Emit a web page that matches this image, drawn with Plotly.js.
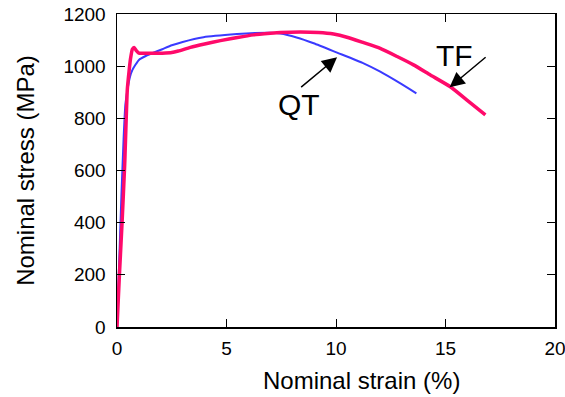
<!DOCTYPE html>
<html>
<head>
<meta charset="utf-8">
<script src="https://cdn.plot.ly/plotly-3.0.1.min.js"></script>
<style>html,body{margin:0;padding:0;background:#fff;}#chart{width:565px;height:397px;}</style>
</head>
<body>
<div id="chart"></div>
<script>
// QT specimen (blue)
const qtStrain = [0, 0.1, 0.2, 0.3, 0.38, 0.47, 0.58, 0.7, 1.0, 1.31, 2.07, 2.5, 3.0, 3.95, 5.48, 6.3, 7.0, 7.46, 8.2, 8.98, 10.05, 11.26, 12.02, 12.94, 13.67];
const qtStress = [0, 250, 500, 720, 850, 905, 955, 985, 1024, 1039, 1065, 1080, 1093, 1111, 1123, 1127, 1128, 1125, 1110, 1088, 1052, 1011, 979, 934, 896];
// TF specimen (pink)
const tfStrain = [0, 0.11, 0.23, 0.35, 0.47, 0.55, 0.62, 0.7, 0.78, 0.88, 1.0, 1.5, 2.07, 2.5, 2.8, 3.35, 4.0, 4.72, 5.5, 6.24, 7.0, 7.46, 8.37, 9.2, 9.89, 10.5, 11.26, 12.02, 12.79, 13.54, 14.31, 15.22, 15.98, 16.82];
const tfStress = [0, 200, 398, 620, 909, 980, 1030, 1065, 1072, 1060, 1050, 1050, 1050, 1052, 1058, 1072, 1085, 1098, 1110, 1120, 1126, 1129, 1131, 1129, 1123, 1111, 1090, 1068, 1037, 1005, 966, 921, 870, 813];
// Axis ticks
const xTicks = [0, 5, 10, 15, 20];
const yTicks = [0, 200, 400, 600, 800, 1000, 1200];
// Labels
const labelQT = "QT";
const labelTF = "TF";
const xTitle = "Nominal strain (%)";
const yTitle = "Nominal stress (MPa)";

const FONT = "Liberation Sans, Arial, sans-serif";

const traces = [
  {x: qtStrain, y: qtStress, mode: "lines", name: labelQT,
   line: {color: "#3a3aff", width: 2, shape: "spline", smoothing: 0.5}, cliponaxis: false},
  {x: tfStrain, y: tfStress, mode: "lines", name: labelTF,
   line: {color: "#ff0a6a", width: 3.5, shape: "spline", smoothing: 0.5}, cliponaxis: false}
];

const axisCommon = {
  showgrid: false, zeroline: false, showline: true, linecolor: "#000", linewidth: 1.5,
  mirror: "ticks", ticks: "inside", ticklen: 8, tickwidth: 1, tickcolor: "#000",
  ticklabeloverflow: "allow",
  tickfont: {family: FONT, size: 19, color: "#000"}
};

const layout = {
  width: 565, height: 397,
  margin: {l: 117, r: 10, t: 14, b: 70},
  paper_bgcolor: "#fff", plot_bgcolor: "#fff",
  showlegend: false,
  font: {family: FONT, color: "#000"},
  xaxis: Object.assign({}, axisCommon, {range: [0, 20], tickvals: xTicks, ticklabelstandoff: 4}),
  yaxis: Object.assign({}, axisCommon, {range: [0, 1200], tickvals: yTicks, ticklabelstandoff: 6,
    title: {text: yTitle, font: {family: FONT, size: 24, color: "#000"}, standoff: 22}}),
  annotations: [
    {x: 0.5, y: 0, xref: "paper", yref: "paper", xshift: 25, yshift: -53,
     text: xTitle, showarrow: false, font: {family: FONT, size: 24, color: "#000"},
     xanchor: "center", yanchor: "middle"},
    {x: 8.31, y: 852, xref: "x", yref: "y", text: labelQT, showarrow: false,
     font: {family: FONT, size: 30, color: "#000"}, xanchor: "center", yanchor: "middle"},
    {x: 15.42, y: 1039, xref: "x", yref: "y", text: labelTF, showarrow: false,
     font: {family: FONT, size: 30, color: "#000"}, xanchor: "center", yanchor: "middle"},
    {x: 10.05, y: 1034, ax: 8.34, ay: 915, xref: "x", yref: "y", axref: "x", ayref: "y",
     text: "", showarrow: true, arrowhead: 2, arrowsize: 2, arrowwidth: 1.5, arrowcolor: "#000"},
    {x: 15.19, y: 919, ax: 16.9, ay: 1039, xref: "x", yref: "y", axref: "x", ayref: "y",
     text: "", showarrow: true, arrowhead: 2, arrowsize: 2, arrowwidth: 1.5, arrowcolor: "#000"}
  ]
};

Plotly.newPlot("chart", traces, layout, {displayModeBar: false, staticPlot: true});
</script>
</body>
</html>
